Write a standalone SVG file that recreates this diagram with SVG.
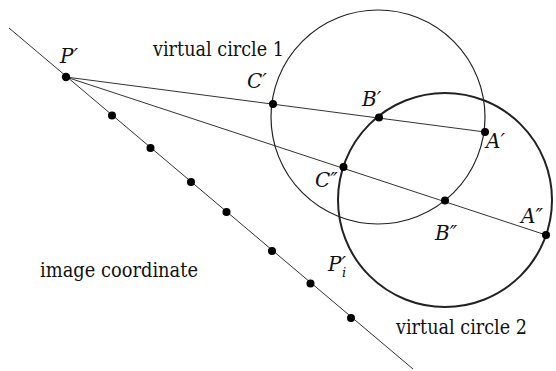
<svg xmlns="http://www.w3.org/2000/svg" width="556" height="371" viewBox="0 0 556 371">
<style>
.bg{fill:#fff}
.ln{stroke:#333;stroke-width:1;fill:none}
.c1{stroke:#222;stroke-width:1.2;fill:none}
.c2{stroke:#222;stroke-width:2;fill:none}
.pt{fill:#000}
text{font-family:"DejaVu Serif",serif;fill:#111}
.t{font-size:20px}
.it{font-size:20px;font-style:italic}
.sub{font-size:13px}
</style>
<rect class="bg" x="0" y="0" width="556" height="371"/>
<g id="connectors">
<line class="ln" x1="9" y1="28" x2="413" y2="369"/>
<line class="ln" x1="66" y1="77" x2="485" y2="132"/>
<line class="ln" x1="66" y1="77" x2="546" y2="235"/>
</g>
<g id="virtual-circle-1">
<circle class="c1" cx="378" cy="117" r="107"/>
<text class="t" x="153" y="56" textLength="131" lengthAdjust="spacingAndGlyphs">virtual circle 1</text>
</g>
<g id="virtual-circle-2">
<circle class="c2" cx="445" cy="200" r="107"/>
<text class="t" x="396" y="334" textLength="131" lengthAdjust="spacingAndGlyphs">virtual circle 2</text>
</g>
<g id="image-coordinate">
<text class="t" x="40" y="277" textLength="158" lengthAdjust="spacingAndGlyphs">image coordinate</text>
<circle class="pt" cx="112" cy="115.5" r="4"/>
<circle class="pt" cx="150.5" cy="148" r="4"/>
<circle class="pt" cx="191" cy="182" r="4"/>
<circle class="pt" cx="226.5" cy="212" r="4"/>
<circle class="pt" cx="272" cy="251" r="4"/>
<circle class="pt" cx="310.5" cy="283.5" r="4"/>
<circle class="pt" cx="351" cy="318" r="4"/>
</g>
<g id="P1">
<circle class="pt" cx="66" cy="77" r="4.2"/>
<text class="it" x="60" y="63">P′</text>
</g>
<g id="C1">
<circle class="pt" cx="273" cy="104" r="4"/>
<text class="it" x="247" y="88">C′</text>
</g>
<g id="B1">
<circle class="pt" cx="379" cy="117.5" r="4"/>
<text class="it" x="362" y="106">B′</text>
</g>
<g id="A1">
<circle class="pt" cx="485" cy="132" r="4"/>
<text class="it" x="486" y="148">A′</text>
</g>
<g id="C2">
<circle class="pt" cx="343.5" cy="167" r="4"/>
<text class="it" x="315" y="187">C″</text>
</g>
<g id="B2">
<circle class="pt" cx="445" cy="200.5" r="4"/>
<text class="it" x="435" y="240">B″</text>
</g>
<g id="A2">
<circle class="pt" cx="546" cy="235" r="4"/>
<text class="it" x="521" y="223">A″</text>
</g>
<g id="Pi">
<text class="it" x="328" y="271">P′<tspan class="sub" dx="-4" dy="6">i</tspan></text>
</g>
</svg>
